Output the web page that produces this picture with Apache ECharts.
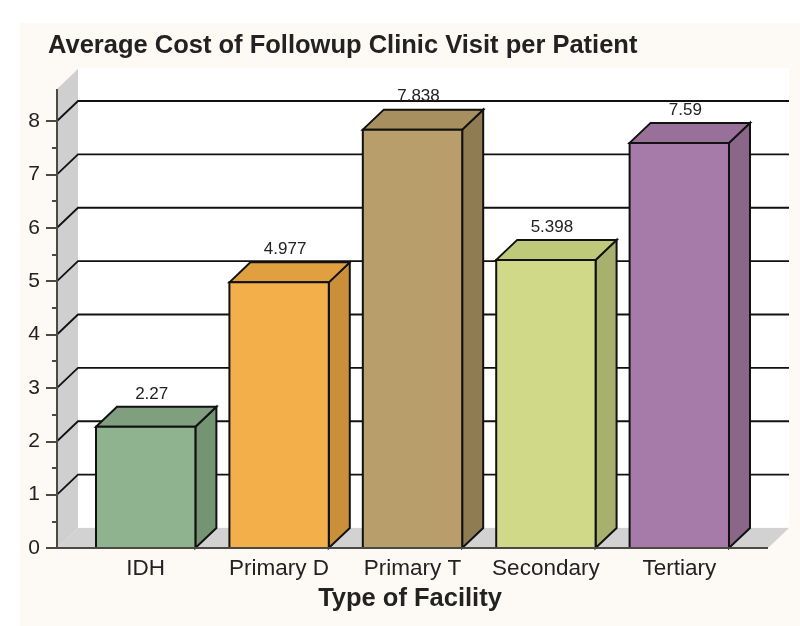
<!DOCTYPE html>
<html>
<head>
<meta charset="utf-8">
<style>
	html, body { margin: 0; padding: 0; background: #fff; }
	#main { width: 800px; height: 626px; }
</style>
<script src="https://cdn.jsdelivr.net/npm/echarts@6/dist/echarts.min.js"></script>
</head>
<body>
<div id="main"></div>
<script>
var categories = ['IDH', 'Primary D', 'Primary T', 'Secondary', 'Tertiary'];
var costs = [2.27, 4.977, 7.838, 5.398, 7.59];
var gridValues = [1, 2, 3, 4, 5, 6, 7, 8];

var frontColors = ['#8fb28f', '#f3af4a', '#b89e6b', '#cfd988', '#a67aa9'];
var topColors = ['#7f9f7f', '#e0a040', '#a88f60', '#bfc97a', '#98709a'];
var sideColors = ['#749474', '#c99039', '#8f7c52', '#a7b06c', '#8a6689'];

// 3d look: depth of the box and how far the y axis sits left of the first band
var depthX = 21;
var depthY = 20;
var axisGap = 22;
var font = '"Liberation Sans", Arial, sans-serif';

window.onload = function () {
	var myChart = echarts.init(document.querySelector('#main'));

	function renderWalls(params, api) {
		var cs = params.coordSys;
		var axisX = cs.x - axisGap;
		var axisEnd = cs.x + cs.width + axisGap;
		var y0 = api.coord([0, 0])[1];
		var yTop = api.coord([0, 8.6])[1];
		return {
			type: 'group',
			children: [
				{
					type: 'rect',
					shape: { x: axisX + depthX, y: yTop - depthY - 1, width: axisEnd - axisX, height: y0 - yTop },
					style: { fill: '#ffffff' }
				},
				{
					type: 'polygon',
					shape: { points: [[axisX, yTop], [axisX + depthX, yTop - depthY], [axisX + depthX, y0 - depthY], [axisX, y0]] },
					style: { fill: '#cfcfcf' }
				},
				{
					type: 'polygon',
					shape: { points: [[axisX, y0], [axisX + depthX, y0 - depthY], [axisEnd + depthX, y0 - depthY], [axisEnd, y0]] },
					style: { fill: '#d2d2d2' }
				}
			]
		};
	}

	// axis lines go over the bottom edge of the bars
	function renderAxisLines(params, api) {
		var cs = params.coordSys;
		var axisX = cs.x - axisGap;
		var axisEnd = cs.x + cs.width + axisGap;
		var y0 = api.coord([0, 0])[1];
		var yTop = api.coord([0, 8.6])[1];
		return {
			type: 'polyline',
			shape: { points: [[axisX, yTop], [axisX, y0], [axisEnd, y0]] },
			style: { fill: 'none', stroke: '#4a4a42', lineWidth: 2 }
		};
	}

	function renderGridLine(params, api) {
		var cs = params.coordSys;
		var axisX = cs.x - axisGap;
		var axisEnd = cs.x + cs.width + axisGap;
		var y = api.coord([0, api.value(0)])[1];
		return {
			type: 'polyline',
			shape: { points: [[axisX, y], [axisX + depthX, y - depthY], [axisEnd + depthX, y - depthY]] },
			style: { fill: 'none', stroke: '#111111', lineWidth: 1.8 }
		};
	}

	function renderBar(params, api) {
		var i = api.value(0);
		var top = api.coord([i, api.value(1)]);
		var base = api.coord([i, 0]);
		var w = api.size([1, 0])[0] * 0.745;
		var x1 = top[0] - w / 2;
		var x2 = top[0] + w / 2;
		var lineStyle = { stroke: '#111111', lineWidth: 2, lineJoin: 'miter' };
		return {
			type: 'group',
			children: [
				{
					type: 'polygon',
					shape: { points: [[x2, top[1]], [x2 + depthX, top[1] - depthY], [x2 + depthX, base[1] - depthY], [x2, base[1]]] },
					style: Object.assign({ fill: sideColors[i] }, lineStyle)
				},
				{
					type: 'polygon',
					shape: { points: [[x1, top[1]], [x1 + depthX, top[1] - depthY], [x2 + depthX, top[1] - depthY], [x2, top[1]]] },
					style: Object.assign({ fill: topColors[i] }, lineStyle)
				},
				{
					type: 'rect',
					shape: { x: x1, y: top[1], width: w, height: base[1] - top[1] },
					style: Object.assign({ fill: frontColors[i] }, lineStyle)
				},
				{
					type: 'text',
					style: {
						x: top[0] + 6,
						y: top[1] - depthY - 13,
						text: String(costs[i]),
						fill: '#222222',
						font: '17px ' + font,
						align: 'center',
						verticalAlign: 'middle'
					}
				}
			]
		};
	}

	var option = {
		animation: false,
		title: {
			text: 'Average Cost of Followup Clinic Visit per Patient',
			left: 43,
			top: 28,
			textStyle: { color: '#222222', fontFamily: font, fontWeight: 'bold', fontSize: 25.5 }
		},
		graphic: [{
			type: 'rect',
			z: -10,
			shape: { x: 20, y: 23, width: 780, height: 603 },
			style: { fill: '#fdf9f5' }
		}],
		grid: { left: 79, width: 667, top: 121, height: 427 },
		xAxis: {
			type: 'category',
			data: categories,
			z: 5,
			axisLine: { show: false },
			axisTick: { show: false },
			axisLabel: { color: '#222222', fontFamily: font, fontSize: 22.5, margin: 9, interval: 0 },
			name: 'Type of Facility',
			nameLocation: 'middle',
			nameGap: 38,
			nameTextStyle: { color: '#222222', fontFamily: font, fontWeight: 'bold', fontSize: 25.5, padding: [0, 5, 0, 0] }
		},
		yAxis: {
			type: 'value',
			min: 0,
			max: 8,
			interval: 1,
			offset: axisGap,
			z: 5,
			splitLine: { show: false },
			axisLine: { show: false },
			axisTick: { show: true, length: 11, lineStyle: { color: '#4a4a42', width: 2 } },
			minorTick: { show: true, splitNumber: 2, length: 5, lineStyle: { color: '#4a4a42', width: 2 } },
			axisLabel: { color: '#222222', fontFamily: font, fontSize: 21, margin: 17 }
		},
		series: [
			{
				type: 'custom',
				z: 1,
				silent: true,
				renderItem: renderWalls,
				data: [[0]]
			},
			{
				type: 'custom',
				z: 2,
				silent: true,
				renderItem: renderGridLine,
				encode: { y: 0 },
				data: gridValues.map(function (v) { return [v]; })
			},
			{
				type: 'custom',
				z: 3,
				silent: true,
				renderItem: renderBar,
				encode: { x: 0, y: 1 },
				data: costs.map(function (v, i) { return [i, v]; })
			},
			{
				type: 'custom',
				z: 4,
				silent: true,
				renderItem: renderAxisLines,
				data: [[0]]
			}
		]
	};

	myChart.setOption(option);
};
</script>
</body>
</html>
